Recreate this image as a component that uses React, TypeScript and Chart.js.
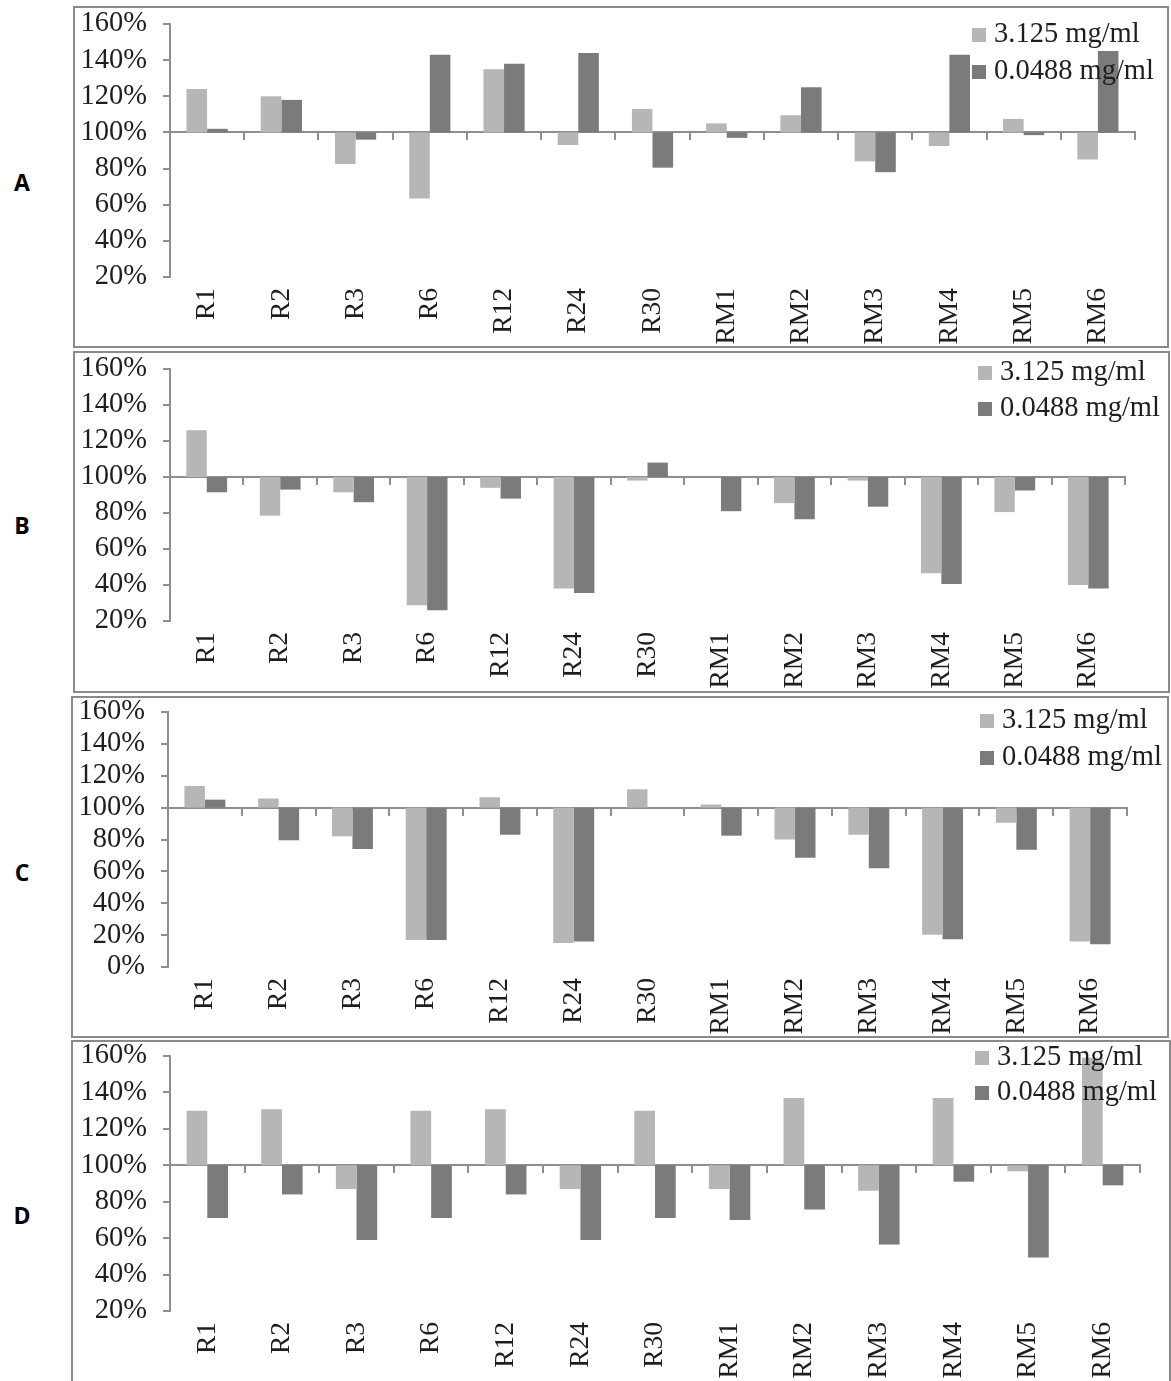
import React, { useEffect, useRef } from "react";
import { Chart, registerables } from "chart.js";

Chart.register(...registerables);

// ---------- data ----------
const categories = ["R1", "R2", "R3", "R6", "R12", "R24", "R30", "RM1", "RM2", "RM3", "RM4", "RM5", "RM6"];
const seriesNames = ["3.125 mg/ml", "0.0488 mg/ml"];
const baselineValue = 100;

const yTicksStandard = [20, 40, 60, 80, 100, 120, 140, 160];
const yTicksFromZero = [0, 20, 40, 60, 80, 100, 120, 140, 160];

const panelAHigh = [124, 120, 82.5, 63.5, 135, 93, 113, 105, 109.5, 84, 92.5, 107.5, 85];
const panelALow = [102, 118, 96, 143, 138, 144, 80.5, 97, 125, 78, 143, 98.5, 145];

const panelBHigh = [126, 78.5, 91.5, 28.7, 94, 38, 98, 100, 85.5, 98, 46.5, 80.5, 40];
const panelBLow = [91.5, 93, 86, 26, 88, 35.5, 108, 81, 76.5, 83.5, 40.5, 92.5, 38];

const panelCHigh = [113.6, 105.7, 82, 17, 106.5, 15, 111.5, 102, 80, 83, 20.3, 90.5, 16];
const panelCLow = [105, 79.5, 74, 17, 83, 16, 100, 82.4, 68.5, 62, 17.4, 73.6, 14.3];

const panelDHigh = [130, 130.7, 87, 130, 130.7, 87, 130, 87, 137, 86, 137, 96.7, 159];
const panelDLow = [71, 84, 59, 71, 84, 59, 71, 70, 75.7, 56.5, 91, 49.4, 89];

// ---------- styles ----------
const LIGHT = "#b6b6b6";
const DARK = "#7b7b7b";
const AXIS = "#8f8f8f";
const TEXT = "#1e1e1e";
const SERIF = "'Liberation Serif', 'Times New Roman', serif";

const cornerLegend = {
  id: "cornerLegend",
  afterDatasetsDraw(chart: any, _args: any, opts: any) {
    const { ctx } = chart;
    ctx.save();
    ctx.font = `${opts.fontSize}px ${SERIF}`;
    ctx.textBaseline = "middle";
    ctx.textAlign = "left";
    chart.data.datasets.forEach((ds: any, i: number) => {
      const y = opts.y + i * opts.dy;
      ctx.fillStyle = ds.backgroundColor;
      ctx.fillRect(opts.x, y - opts.box / 2, opts.box, opts.box);
      ctx.fillStyle = opts.color;
      ctx.fillText(ds.label, opts.x + opts.box + opts.gap, y);
    });
    ctx.restore();
  },
};

type PanelCfg = {
  letter: string;
  high: number[];
  low: number[];
  yTicks: number[];
  box: { left: number; top: number; width: number; height: number };
  letterPos: { left: number; top: number };
  padTop: number;
  padRight: number;
  yAxisWidth: number;
  xAxisHeight: number;
  legend: { x: number; y: number; dy: number };
};

const panels: PanelCfg[] = [
  {
    letter: "A", high: panelAHigh, low: panelALow, yTicks: yTicksStandard,
    box: { left: 73, top: 6, width: 1096, height: 342 },
    letterPos: { left: 9, top: 167 },
    padTop: 16, padRight: 32, yAxisWidth: 95, xAxisHeight: 69,
    legend: { x: 897, y: 27, dy: 37 },
  },
  {
    letter: "B", high: panelBHigh, low: panelBLow, yTicks: yTicksStandard,
    box: { left: 73, top: 351, width: 1097, height: 342 },
    letterPos: { left: 9, top: 510 },
    padTop: 16, padRight: 43, yAxisWidth: 95, xAxisHeight: 70,
    legend: { x: 903, y: 20, dy: 36 },
  },
  {
    letter: "C", high: panelCHigh, low: panelCLow, yTicks: yTicksFromZero,
    box: { left: 71, top: 696, width: 1098, height: 342 },
    letterPos: { left: 9, top: 857 },
    padTop: 14, padRight: 40, yAxisWidth: 95, xAxisHeight: 69,
    legend: { x: 907, y: 23, dy: 37 },
  },
  {
    letter: "D", high: panelDHigh, low: panelDLow, yTicks: yTicksStandard,
    box: { left: 71, top: 1040, width: 1100, height: 345 },
    letterPos: { left: 9, top: 1200 },
    padTop: 14, padRight: 29, yAxisWidth: 97, xAxisHeight: 72,
    legend: { x: 902, y: 16, dy: 35 },
  },
];

function ChartPanel({ cfg }: { cfg: PanelCfg }) {
  const ref = useRef<HTMLCanvasElement>(null);
  const w = cfg.box.width - 4;
  const h = cfg.box.height - 4;

  useEffect(() => {
    if (!ref.current) return;
    const yMin = cfg.yTicks[0];
    const yMax = cfg.yTicks[cfg.yTicks.length - 1];
    const chart = new Chart(ref.current, {
      type: "bar",
      data: {
        labels: categories,
        datasets: [
          {
            label: seriesNames[0],
            data: cfg.high.map((v) => [baselineValue, v]) as any,
            backgroundColor: LIGHT,
            borderWidth: 0,
            xAxisID: "x",
          },
          {
            label: seriesNames[1],
            data: cfg.low.map((v) => [baselineValue, v]) as any,
            backgroundColor: DARK,
            borderWidth: 0,
            xAxisID: "x",
          },
        ],
      },
      options: {
        responsive: false,
        animation: false,
        categoryPercentage: 0.555,
        barPercentage: 1.0,
        layout: { padding: { top: cfg.padTop, right: cfg.padRight, left: 0, bottom: 0 } },
        plugins: {
          legend: { display: false },
          tooltip: { enabled: false },
          cornerLegend: { ...cfg.legend, box: 14, gap: 8, fontSize: 28.5, color: TEXT },
        } as any,
        scales: {
          x: {
            type: "category",
            position: "bottom",
            offset: true,
            grid: { display: false, drawTicks: false },
            border: { display: false },
            ticks: {
              autoSkip: false,
              maxRotation: 90,
              minRotation: 90,
              padding: 11,
              color: TEXT,
              font: { family: SERIF, size: 27.5, lineHeight: 1 },
            },
            afterFit: (s: any) => {
              s.height = cfg.xAxisHeight;
              s.paddingLeft = 0;
              s.paddingRight = 0;
            },
          },
          base: {
            type: "category",
            axis: "x",
            position: { y: baselineValue },
            offset: true,
            grid: {
              display: true,
              offset: true,
              drawOnChartArea: false,
              drawTicks: true,
              tickLength: 7,
              color: AXIS,
              lineWidth: 2,
            },
            border: { display: true, color: AXIS, width: 2 },
            ticks: { display: false },
          } as any,
          y: {
            type: "linear",
            position: "left",
            min: yMin,
            max: yMax,
            afterBuildTicks: (s: any) => {
              s.ticks = cfg.yTicks.map((v) => ({ value: v }));
            },
            grid: {
              display: true,
              drawOnChartArea: false,
              drawTicks: true,
              tickLength: 7,
              color: AXIS,
              lineWidth: 2,
            },
            border: { display: true, color: AXIS, width: 2 },
            ticks: {
              autoSkip: false,
              padding: 16,
              color: TEXT,
              font: { family: SERIF, size: 28.5, lineHeight: 1 },
              callback: (v: any) => `${v}%`,
            },
            afterFit: (s: any) => {
              s.width = cfg.yAxisWidth;
              s.paddingTop = 0;
              s.paddingBottom = 0;
            },
          },
        },
      },
      plugins: [cornerLegend as any],
    });
    return () => chart.destroy();
  }, []);

  return (
    <>
      <div
        style={{
          position: "absolute",
          left: cfg.letterPos.left,
          top: cfg.letterPos.top,
          width: 26,
          height: 30,
          lineHeight: "30px",
          fontFamily: "'Open Sans', 'DejaVu Sans', sans-serif",
          fontWeight: 700,
          fontSize: 23,
          color: "#000",
          textAlign: "center",
        }}
      >
        {cfg.letter}
      </div>
      <div
        style={{
          position: "absolute",
          left: cfg.box.left,
          top: cfg.box.top,
          width: cfg.box.width,
          height: cfg.box.height,
          boxSizing: "border-box",
          border: "2px solid #8a8a8a",
          background: "#fff",
        }}
      >
        <canvas ref={ref} width={w} height={h} style={{ display: "block", width: w, height: h }} />
      </div>
    </>
  );
}

export default function App() {
  return (
    <div
      style={{
        position: "absolute",
        left: 0,
        top: 0,
        width: 1171,
        height: 1381,
        overflow: "hidden",
        background: "#fff",
      }}
    >
      {panels.map((p) => (
        <ChartPanel key={p.letter} cfg={p} />
      ))}
    </div>
  );
}
